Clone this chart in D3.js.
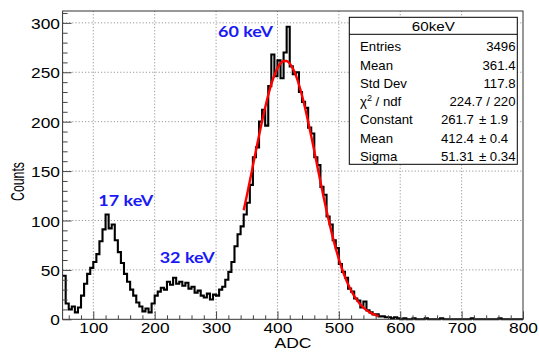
<!DOCTYPE html>
<html><head><meta charset="utf-8">
<script src="https://cdn.jsdelivr.net/npm/d3@7"></script>
<style>html,body{margin:0;padding:0;background:#fff;}svg{display:block;}</style>
</head><body>
<svg id="c" width="539" height="359"></svg>
<script>
// ---- data ----
const binLow = 50, binWidth = 5;
const counts = [
 44,16,10,13,7,12,24,36,46,52,          // 50-95
 58,66,79,91,106,92,96,80,68,57,        // 100-145
 46,38,30,24,17,13,8,11,7,16,           // 150-195
 24,28,32,30,38,35,42,36,38,34,         // 200-245
 37,31,33,27,29,24,22,26,20,25,         // 250-295
 24,30,33,40,48,58,74,86,94,106,        // 300-345
 118,136,164,174,200,212,196,236,268,246, // 350-395
 262,244,270,296,256,248,250,230,220,214, // 400-445
 194,188,164,156,134,126,104,96,80,72,  // 450-495
 56,48,42,31,28,21,19,12,18,9,          // 500-545
 7,5,5,3,3,2,2,1,2,1,                   // 550-595
 0,1,0,0,1,0,0,0,1,0,                   // 600-645
 0,0,0,1,0,0,0,0,0,0,                   // 650-695
 0,0,0,1,0,0,0,0,0,0,                   // 700-745
 0,0,1,0,0,0,0,0,0,0                    // 750-795
];
const fitX = [345,350,355,360,365,370,375,380,385,390,395,400,405,410,415,420,425,430,435,440,445,450,455,460,465,470,475,480,485,490,495,500,505,510,515,520,525,530,535,540,545,550,555,560,565];
const fitY = [110.4,124.9,140.0,155.4,170.8,186.0,200.6,214.4,227.0,238.0,247.0,254.1,259.0,261.4,261.4,258.8,253.9,246.8,237.5,226.5,213.9,200.0,185.4,170.3,154.7,139.4,124.3,109.9,96.2,83.4,71.7,61.0,51.4,43.0,35.4,29.1,23.6,18.9,15.1,11.9,9.3,7.2,5.5,4.2,3.1];
const xMajor = [100,200,300,400,500,600,700,800];
const xMinor = [60,80,120,140,160,180,220,240,260,280,320,340,360,380,420,440,460,480,520,540,560,580,620,640,660,680,720,740,760,780];
const yMajor = [0,50,100,150,200,250,300];
const yMinor = [10,20,30,40,60,70,80,90,110,120,130,140,160,170,180,190,210,220,230,240,260,270,280,290,310];
const statsTitle = "60keV";
const statsLabels = ["Entries","Mean","Std Dev","chi2","Constant","Mean","Sigma"];
const statsValues = ["3496","361.4","117.8","224.7 / 220","261.7","412.4","51.31"];
const statsErrors = [null,null,null,null,"1.9","0.4","0.34"];
const peakTexts = ["17 keV","32 keV","60 keV"];
const peakAdc = [153, 253, 348];     // label centre, ADC units
const peakCount = [115, 56.5, 286];  // label baseline, count units

// ---- chart ----
const svg = d3.select("#c");
const FONT = "'Liberation Sans', Arial, Helvetica, sans-serif";
const x = d3.scaleLinear().domain([50,800]).range([62.6,523]);
const y = d3.scaleLinear().domain([0,312]).range([319.3,11]);

// grid
const grid = svg.append("g").attr("stroke","#999").attr("stroke-width",1).attr("stroke-dasharray","1.2,2");
grid.selectAll("line.v").data(xMajor.filter(d=>d<800)).join("line")
  .attr("x1",d=>x(d)).attr("x2",d=>x(d)).attr("y1",y(0)).attr("y2",y(312));
grid.selectAll("line.h").data(yMajor.filter(d=>d>0)).join("line")
  .attr("x1",x(50)).attr("x2",x(800)).attr("y1",d=>y(d)).attr("y2",d=>y(d));

// histogram
const pts = counts.map((c,i)=>[binLow+i*binWidth, c]);
pts.push([binLow+counts.length*binWidth, counts[counts.length-1]]);
svg.append("path").datum(pts)
  .attr("d", d3.line().x(d=>x(d[0])).y(d=>y(d[1])).curve(d3.curveStepAfter))
  .attr("fill","none").attr("stroke","#000").attr("stroke-width",2.1);

// fit
svg.append("path").datum(fitX.map((v,i)=>[v,fitY[i]]))
  .attr("d", d3.line().x(d=>x(d[0])).y(d=>y(d[1])).curve(d3.curveMonotoneX))
  .attr("fill","none").attr("stroke","#ff0000").attr("stroke-width",2.4);

// frame
svg.append("rect").attr("x",x(50)).attr("y",y(312)).attr("width",x(800)-x(50)).attr("height",y(0)-y(312))
  .attr("fill","none").attr("stroke","#333").attr("stroke-width",1);

// axes
const xAx = svg.append("g").attr("transform",`translate(0,${y(0)})`)
  .call(d3.axisBottom(x).tickValues(xMajor).tickSizeInner(-8).tickSizeOuter(0).tickPadding(2.6).tickFormat(d3.format("d")));
svg.append("g").attr("transform",`translate(0,${y(0)})`)
  .call(d3.axisBottom(x).tickValues(xMinor).tickSizeInner(-4).tickSizeOuter(0).tickFormat(""));
const yAx = svg.append("g").attr("transform",`translate(${x(50)},0)`)
  .call(d3.axisLeft(y).tickValues(yMajor).tickSizeInner(-9).tickSizeOuter(0).tickPadding(2.3).tickFormat(d3.format("d")));
svg.append("g").attr("transform",`translate(${x(50)},0)`)
  .call(d3.axisLeft(y).tickValues(yMinor).tickSizeInner(-5).tickSizeOuter(0).tickFormat(""));
svg.selectAll(".domain").remove();
svg.selectAll(".tick line").attr("stroke","#444");
xAx.selectAll("text").attr("font-family",FONT).attr("font-size",15.5).attr("fill","#000").attr("transform","scale(1.12,1)");
yAx.selectAll("text").attr("font-family",FONT).attr("font-size",15.5).attr("fill","#000").attr("transform","scale(1.12,1)").attr("dy","0.36em");

// axis titles
svg.append("text").attr("x",293).attr("y",348.3).attr("text-anchor","middle")
  .attr("font-family",FONT).attr("font-size",15).attr("textLength",37).attr("lengthAdjust","spacingAndGlyphs").text("ADC");
svg.append("text").attr("transform","translate(24,181.5) rotate(-90)").attr("text-anchor","middle")
  .attr("font-family",FONT).attr("font-size",17.5).attr("textLength",39).attr("lengthAdjust","spacingAndGlyphs").text("Counts");

// peak labels
svg.selectAll("text.peak").data(peakTexts).join("text").attr("class","peak")
  .attr("x",(d,i)=>x(peakAdc[i])).attr("y",(d,i)=>y(peakCount[i])).attr("text-anchor","middle")
  .attr("font-family","Lato, 'Open Sans', sans-serif").attr("font-weight","bold").attr("font-size",16)
  .attr("fill","#1a1af5").attr("textLength",55).attr("lengthAdjust","spacingAndGlyphs").text(d=>d);

// stats box
const bx0=349.3, bx1=517.3, by0=17.3, by1=164.3;
svg.append("rect").attr("x",bx0).attr("y",by0).attr("width",bx1-bx0).attr("height",by1-by0)
  .attr("fill","#fff").attr("stroke","#000").attr("stroke-width",1);
svg.append("line").attr("x1",bx0).attr("x2",bx1).attr("y1",34.3).attr("y2",34.3).attr("stroke","#000");
const sfs = 13.2;
function stext(xp, yp, anchor, str){
  return svg.append("text").attr("x",xp).attr("y",yp).attr("text-anchor",anchor)
    .attr("font-family",FONT).attr("font-size",sfs).attr("fill","#000").text(str);
}
stext((bx0+bx1)/2, 31.2, "middle", statsTitle).attr("font-size",13.5).attr("textLength",43).attr("lengthAdjust","spacingAndGlyphs");
const rightEdge = 515.5;
// measure widest "± err" part to align the value column
const probe = stext(0,-50,"start","± " + d3.greatest(statsErrors.filter(e=>e), e=>e.length));
const errW = probe.node().getComputedTextLength(); probe.remove();
const pmX = rightEdge - errW;
statsLabels.forEach((lab,i)=>{
  const yp = 51.2 + i*18.3;
  if(lab==="chi2"){
    const t = stext(360, yp, "start", "");
    t.append("tspan").text("χ");
    t.append("tspan").attr("dy",-5).attr("font-size",9).text("2");
    t.append("tspan").attr("dy",5).text(" / ndf");
  } else {
    stext(360, yp, "start", lab);
  }
  if(statsErrors[i]){
    stext(pmX - 5, yp, "end", statsValues[i]);
    stext(pmX, yp, "start", "± " + statsErrors[i]);
  } else {
    stext(rightEdge, yp, "end", statsValues[i]);
  }
});
</script>
</body></html>
